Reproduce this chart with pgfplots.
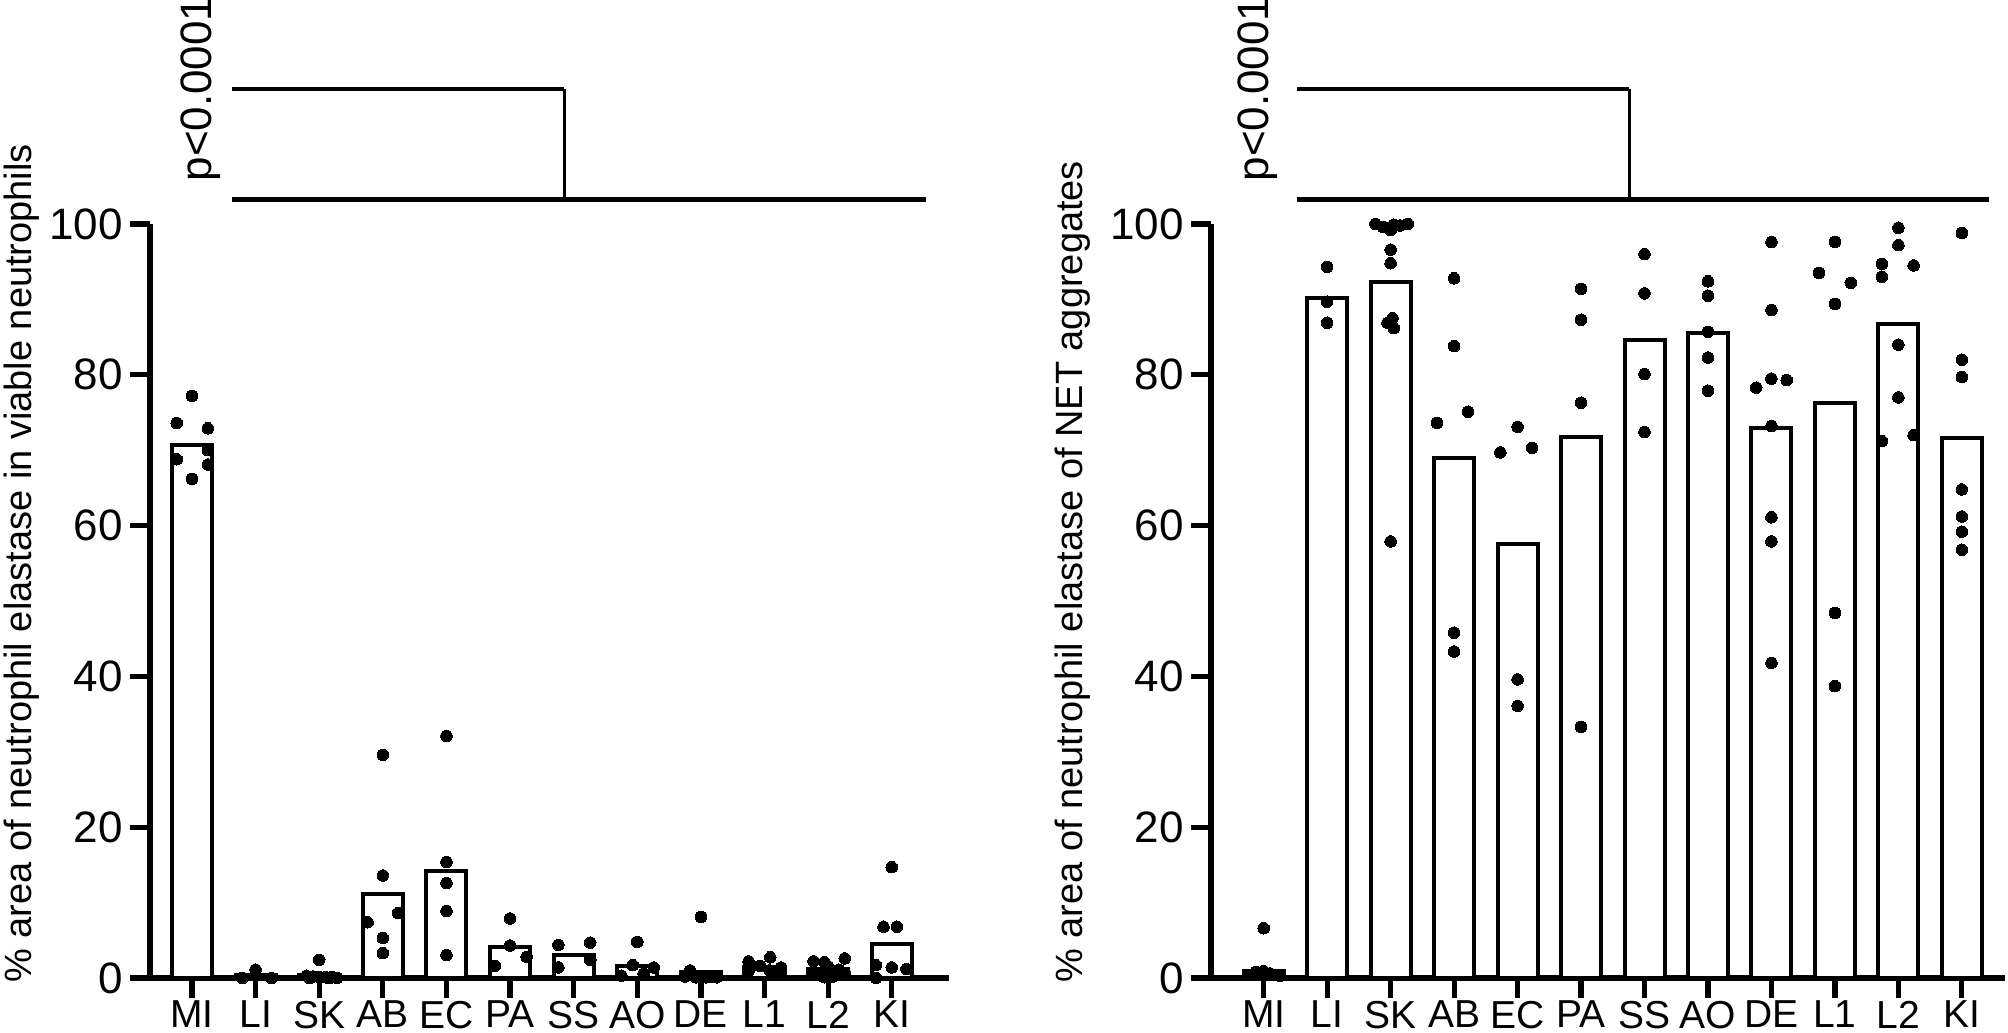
\documentclass[border=0pt]{standalone}
\usepackage{fontspec}
\setmainfont{Liberation Sans}
\usepackage{pgfplots}
\pgfplotsset{compat=1.18}
\pgfplotsset{
  gp/.style={
    scale only axis, anchor=south west,
    ymin=0, ymax=100,
    axis lines*=left,
    axis line style={line width=2.9pt},
    xtick={0,...,11},
    xticklabels={MI,LI,SK,AB,EC,PA,SS,AO,DE,L1,L2,KI},
    ytick={0,20,40,60,80,100},
    yticklabels={0,20,40,60,80,100},
    tick align=outside,
    major tick length=10pt,
    every tick/.style={black, line width=2.6pt},
    minor tick num=0,
    clip=false,
    yticklabel style={font=\fontsize{22}{24}\selectfont, inner sep=0pt, xshift=-3.5pt},
    xticklabel style={font=\fontsize{19.5}{22}\selectfont, inner sep=0pt, yshift=-1.2pt},
  },
  gpbar/.style={ybar, bar shift=0pt, bar width=0.63, draw=black, fill=white, line width=2pt},
  gpdot/.style={only marks, mark=*, mark size=2.9pt, black, mark options={fill=black, draw=black, line width=0pt}},
}
\pgfplotstableread{
x y
0 70.7
1 0.4
2 0.35
3 11.2
4 14.2
5 4.1
6 3.1
7 1.6
8 0.8
9 1.4
10 1.2
11 4.5
}\leftbars
\pgfplotstableread{
x y
0 77.2
-0.24 73.6
0.25 72.9
0.25 70.0
-0.24 68.8
0.25 68.1
0 66.2
0.79 0.0
1 1.1
1.25 0.0
2 2.4
1.8 0.3
1.9 0.2
2.0 0.1
2.1 0.1
2.2 0.1
2.28 0.0
1.85 0.0
2.15 0.0
3 29.6
3 13.6
2.76 7.4
3.24 8.6
3 5.3
3 3.3
4 32.1
4 15.4
4 12.6
4 8.9
4 3.05
5 7.9
5 4.3
5.26 2.8
4.76 1.6
5.76 4.4
6.26 4.7
6.26 2.4
5.76 1.4
7 4.8
6.93 1.7
7.26 1.4
7.1 0.6
6.75 0.3
8 8.1
7.83 1.0
7.75 0.2
7.92 0.1
8.08 0.1
8.17 0.2
8.25 0.1
9.09 2.75
8.75 2.2
8.93 1.6
9.26 1.4
8.75 1.0
9.08 1.0
9.2 0.6
10.26 2.6
9.77 2.2
9.94 2.1
10 1.5
10.17 1.1
9.77 0.9
10.26 0.6
9.87 0.4
10.08 0.2
9.94 0.1
11 14.7
10.87 6.8
11.08 6.8
10.75 1.7
11 1.4
11.23 1.2
10.75 0.0
}\leftdots
\pgfplotstableread{
x y
0 0.9
1 90.2
2 92.3
3 68.9
4 57.6
5 71.7
6 84.6
7 85.5
8 72.9
9 76.3
10 86.8
11 71.6
}\rightbars
\pgfplotstableread{
x y
0 6.6
-0.24 0.4
-0.12 0.8
0 0.9
0.1 0.6
0.2 0.4
0.26 0.3
1 94.3
1 89.7
1 86.9
1.76 100
1.88 99.6
2 99.2
2.05 99.9
2.15 99.8
2.27 100
2 96.6
2 94.8
2.03 87.5
1.95 86.9
2.05 86.2
2 57.9
3 92.8
3 83.8
3.22 75.1
2.73 73.6
3 45.8
3 43.3
4 73.1
4.23 70.3
3.73 69.7
4 39.6
4 36.1
5 91.4
5 87.3
5 76.3
5 33.3
6 96.0
6 90.8
6 80.1
6 72.4
7 92.4
7 90.5
7 85.7
7 82.3
7 77.9
8 97.6
8 88.6
8 79.5
8.24 79.3
7.76 78.3
8 73.2
8 61.1
8 57.9
8 41.8
9 97.6
8.75 93.5
9.25 92.2
9 89.4
9 48.4
9 38.7
10 99.5
10 97.2
9.74 94.7
10.24 94.5
9.74 93.0
10 84.0
10 77.0
10.24 72.0
9.74 71.2
11 98.8
11 82.0
11 79.7
11 64.8
11 61.2
11 59.2
11 56.8
}\rightdots
\begin{document}
\begin{tikzpicture}
\begin{axis}[gp, at={(75pt,27.5pt)}, width=399.5pt, height=377pt, xmin=-0.66, xmax=11.9]
\addplot[gpbar] table {\leftbars};
\addplot[gpdot] table {\leftdots};
\draw[line width=2.4pt] (axis cs:0.63,117.9) -- (axis cs:5.85,117.9);
\draw[line width=2.4pt] (axis cs:0.63,103.3) -- (axis cs:11.54,103.3);
\draw[line width=1.6pt] (axis cs:5.85,117.9) -- (axis cs:5.85,103.3);
\node[rotate=90, anchor=base west, inner sep=0pt, font=\fontsize{22}{24}\selectfont] at (axis cs:0.3,105.6) {p<0.0001};
\end{axis}
\begin{axis}[gp, at={(605.5pt,27.5pt)}, width=397pt, height=377pt, xmin=-0.83, xmax=11.68]
\addplot[gpbar] table {\rightbars};
\addplot[gpdot] table {\rightdots};
\draw[line width=2.4pt] (axis cs:0.52,117.9) -- (axis cs:5.76,117.9);
\draw[line width=2.4pt] (axis cs:0.52,103.3) -- (axis cs:11.43,103.3);
\draw[line width=1.6pt] (axis cs:5.76,117.9) -- (axis cs:5.76,103.3);
\node[rotate=90, anchor=base west, inner sep=0pt, font=\fontsize{22}{24}\selectfont] at (axis cs:0.08,105.6) {p<0.0001};
\end{axis}
\node[rotate=90, anchor=base west, inner sep=0pt, font=\fontsize{19}{21}\selectfont] at (16pt,25pt) {\% area of neutrophil elastase in viable neutrophils};
\node[rotate=90, anchor=base west, inner sep=0pt, font=\fontsize{19}{21}\selectfont] at (541pt,25pt) {\% area of neutrophil elastase of NET aggregates};
\pgfresetboundingbox
\path[use as bounding box] (0,0) rectangle (1004pt,516.5pt);
\end{tikzpicture}
\end{document}
